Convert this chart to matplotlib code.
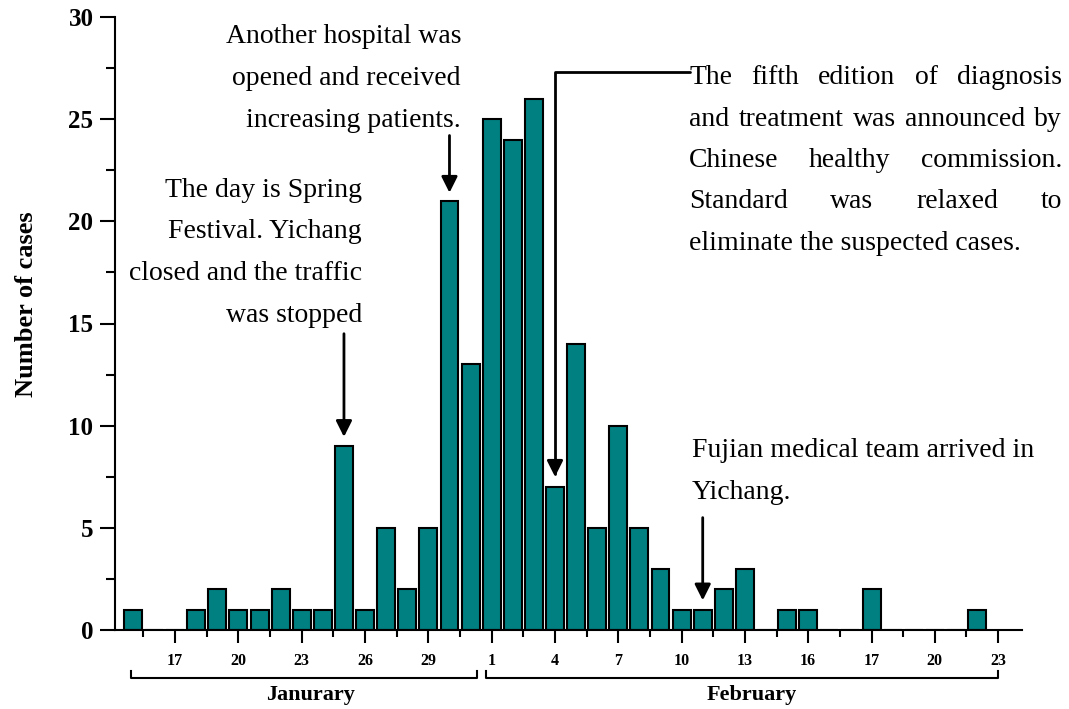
import matplotlib.pyplot as plt
import numpy as np

plt.rcParams['font.family'] = 'Liberation Serif'

# daily cases, Jan 15 -> Feb 24
cases = [1, 0, 0, 1, 2, 1, 1, 2, 1, 1, 9, 1, 5, 2, 5, 21, 13,
         25, 24, 26, 7, 14, 5, 10, 5, 3, 1, 1, 2, 3, 0, 1, 1, 0, 0, 2,
         0, 0, 0, 0, 1]
days = np.arange(len(cases))

tick_pos = list(range(2, 42, 3))
tick_labels = ['17', '20', '23', '26', '29', '1', '4', '7', '10', '13',
               '16', '17', '20', '23']
minor_pos = [p - 1.5 for p in tick_pos]

W, H = 1069, 709

def px(x, y):
    return x / W, 1 - y / H

fig = plt.figure(figsize=(W / 100, H / 100), dpi=100)
ax = fig.add_axes([115 / W, 1 - 630 / H, (1022 - 115) / W, (630 - 17) / H])

ax.bar(days, cases, width=0.85, color='#008080', edgecolor='black', linewidth=1.5)

ax.set_xlim(-0.85, 42.13)
ax.set_ylim(0, 30)
ax.spines['top'].set_visible(False)
ax.spines['right'].set_visible(False)
ax.spines['left'].set_linewidth(1.5)
ax.spines['bottom'].set_linewidth(1.5)

ax.set_xticks(tick_pos, tick_labels)
ax.set_xticks(minor_pos, minor=True)
ax.set_yticks(range(0, 31, 5))
ax.set_yticks(np.arange(2.5, 30, 5), minor=True)
ax.tick_params(axis='x', which='major', length=9.5, width=1.5, pad=7,
               labelsize=11.5)
ax.tick_params(axis='x', which='minor', length=5, width=1.5)
ax.tick_params(axis='y', which='major', length=10.5, width=1.5, pad=5,
               labelsize=18)
ax.tick_params(axis='y', which='minor', length=6.5, width=1.5)
for lab in ax.get_xticklabels() + ax.get_yticklabels():
    lab.set_fontweight('bold')

ax.set_ylabel('Number of cases', fontsize=19, fontweight='bold')
ax.yaxis.set_label_coords(-0.085, 0.532)

# month brackets under the axis
trans = ax.get_xaxis_transform()
for x0, x1, name, xc in [(-0.1, 16.3, 'Janurary', 8.4), (16.73, 41.0, 'February', 29.3)]:
    ax.plot([x0, x0, x1, x1], [-0.067, -0.078, -0.078, -0.067], color='black',
            lw=1.5, transform=trans, clip_on=False)
    ax.text(xc, -0.106, name, transform=trans, ha='center', va='center',
            fontsize=16, fontweight='bold')

# annotations
fs = 20
arrow = dict(arrowstyle='-|>', color='black', lw=2, mutation_scale=24,
             shrinkA=0, shrinkB=0)

block1 = ['Another hospital was', 'opened and received', 'increasing patients.']
for line, yb in zip(block1, [43, 85, 127]):
    fig.text(*px(461, yb), line, ha='right', va='baseline', fontsize=fs)

block2 = ['The day is Spring', 'Festival. Yichang', 'closed and the traffic',
          'was stopped']
for line, yb in zip(block2, [197, 238, 280, 322]):
    fig.text(*px(362, yb), line, ha='right', va='baseline', fontsize=fs)

block4 = ['Fujian medical team arrived in', 'Yichang.']
for line, yb in zip(block4, [457, 499]):
    fig.text(*px(692, yb), line, ha='left', va='baseline', fontsize=fs)

block3 = ['The fifth edition of diagnosis', 'and treatment was announced by',
          'Chinese healthy commission.', 'Standard was relaxed to',
          'eliminate the suspected cases.']
left, right = 689, 1062
r = fig.canvas.get_renderer()
for i, (line, yb) in enumerate(zip(block3, [84, 126, 167, 208, 250])):
    if i == len(block3) - 1:
        fig.text(*px(left, yb), line, ha='left', va='baseline', fontsize=fs)
        continue
    words = line.split()
    ts = [fig.text(*px(left, yb), w, ha='left', va='baseline', fontsize=fs)
          for w in words]
    widths = [t.get_window_extent(r).width for t in ts]
    gap = (right - left - sum(widths)) / (len(words) - 1)
    x = left
    for t, w in zip(ts, widths):
        t.set_x(x / W)
        x += w + gap

ax.annotate('', xy=(10, 9.45), xytext=(10, 14.5), arrowprops=arrow)
ax.annotate('', xy=(15, 21.4), xytext=(15, 24.2), arrowprops=arrow)
ax.annotate('', xy=(27, 1.45), xytext=(27, 5.5), arrowprops=arrow)
ax.annotate('', xy=(20, 7.5), xytext=(26.4, 27.3),
            arrowprops=dict(arrow, connectionstyle='angle,angleA=180,angleB=90,rad=0'))

fig.savefig('out.png', dpi=100)
